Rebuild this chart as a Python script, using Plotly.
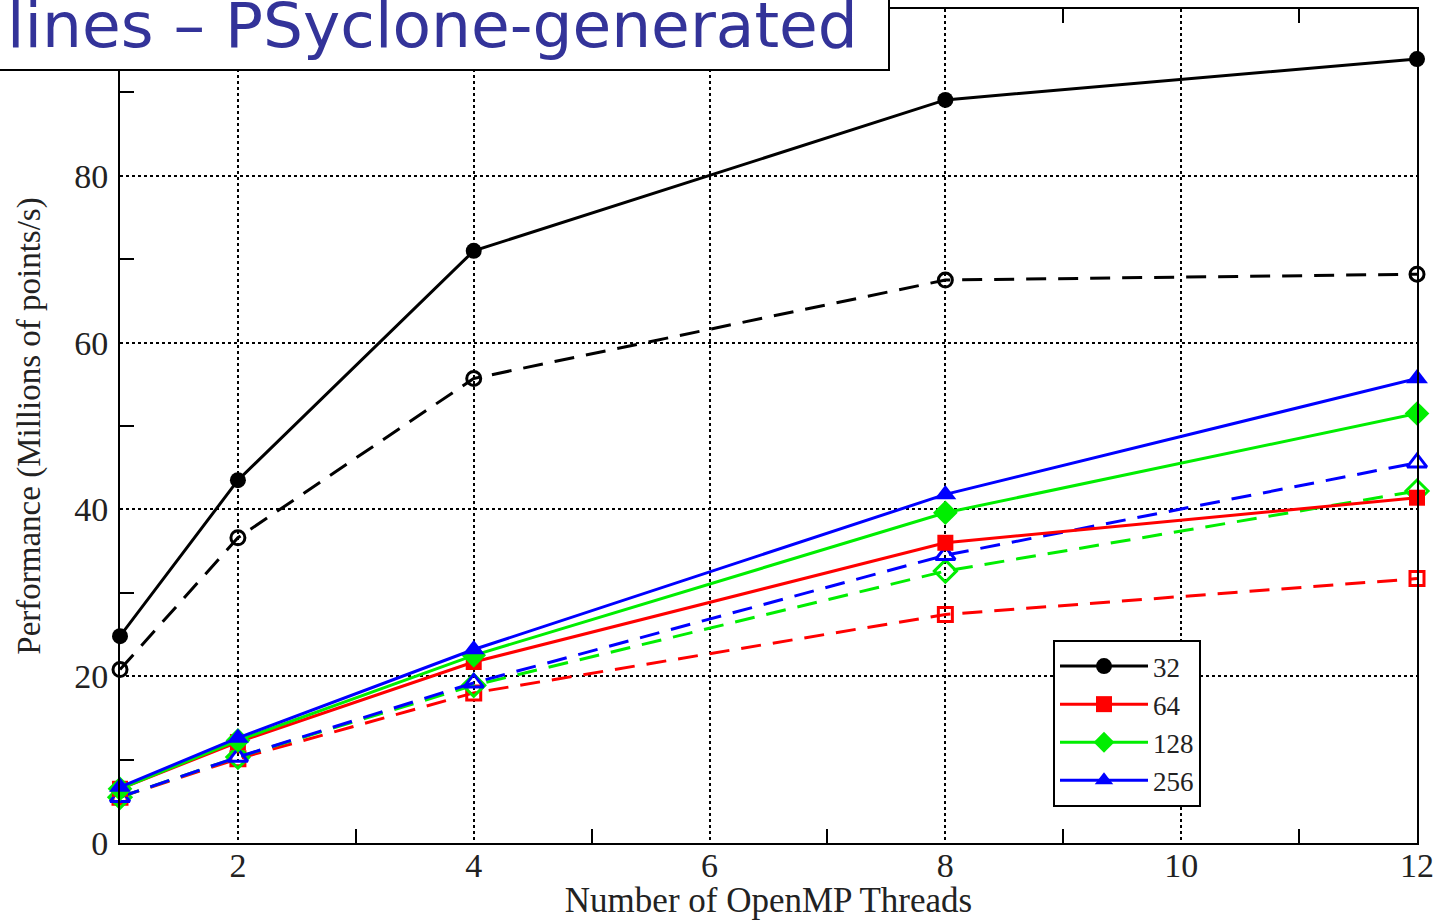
import plotly.graph_objects as go

threads = [1, 2, 4, 8, 12]
sizes = ["32", "64", "128", "256"]
solid_vals = {
    "32": [24.8, 43.5, 71.0, 89.1, 94.0],
    "64": [6.5, 12.1, 21.7, 36.0, 41.4],
    "128": [6.5, 12.3, 22.5, 39.6, 51.5],
    "256": [6.7, 12.6, 23.2, 41.8, 55.7],
}
dashed_vals = {
    "32": [20.8, 36.6, 55.7, 67.5, 68.2],
    "64": [5.5, 10.1, 18.0, 27.4, 31.7],
    "128": [5.5, 10.3, 18.9, 32.6, 42.2],
    "256": [5.5, 10.3, 19.2, 34.5, 45.6],
}
colors = {"32": "#000000", "64": "#ff0000", "128": "#00ee00", "256": "#0000ff"}
symbols = {"32": "circle", "64": "square", "128": "diamond", "256": "triangle-up"}
msize = {"32": 16, "64": 16, "128": 19, "256": 19}

W, H = 1447, 920
L, R, T, B = 120, 1417, 9, 843

fig = go.Figure()
for s in sizes:
    fig.add_trace(go.Scatter(
        x=threads, y=dashed_vals[s], mode="lines+markers", showlegend=False,
        cliponaxis=False,
        line=dict(color=colors[s], width=3, dash="20px,12px"),
        marker=dict(symbol=symbols[s] + "-open", size=msize[s] - 2, color=colors[s],
                    line=dict(color=colors[s], width=3)),
    ))
for s in sizes:
    fig.add_trace(go.Scatter(
        x=threads, y=solid_vals[s], mode="lines+markers", name=s,
        cliponaxis=False,
        line=dict(color=colors[s], width=3),
        marker=dict(symbol=symbols[s], size=msize[s], color=colors[s]),
    ))

def px_x(p):
    return (p - L) / (R - L)

def px_y(p):
    return (B - p) / (B - T)

tick_font = dict(family="Liberation Serif", size=34, color="#222222")
fig.update_xaxes(
    range=[1, 12], tickvals=[2, 4, 6, 8, 10, 12], ticks="", showgrid=True,
    gridcolor="black", griddash="dot", gridwidth=2,
    minor=dict(tickvals=[3, 5, 7, 9, 11], ticks="inside", ticklen=14, tickwidth=2,
               tickcolor="black", showgrid=False),
    showline=True, linecolor="black", linewidth=2, mirror="allticks",
    tickfont=tick_font, zeroline=False, ticklabelstandoff=-9,
    title=dict(text="Number of OpenMP Threads", font=dict(family="Liberation Serif", size=35, color="#222222"), standoff=3),
)
fig.update_yaxes(
    range=[0, 100], tickvals=[0, 20, 40, 60, 80], ticks="", showgrid=True,
    gridcolor="black", griddash="dot", gridwidth=2,
    minor=dict(tickvals=[10, 30, 50, 70, 90], ticks="inside", ticklen=14, tickwidth=2,
               tickcolor="black", showgrid=False),
    showline=True, linecolor="black", linewidth=2, mirror=True,
    tickfont=tick_font, zeroline=False, ticklabelstandoff=3,
    title=dict(text="Performance (Millions of points/s)", font=dict(family="Liberation Serif", size=33, color="#222222"), standoff=24),
)

fig.update_layout(
    width=W, height=H,
    margin=dict(l=L, r=W - R, t=T, b=H - B, autoexpand=False),
    paper_bgcolor="white", plot_bgcolor="white",
    legend=dict(x=px_x(1053), y=px_y(640), xanchor="left", yanchor="top",
                bordercolor="black", borderwidth=2, bgcolor="white",
                font=dict(family="Liberation Serif", size=27, color="#222222"),
                tracegroupgap=0, itemwidth=88, entrywidth=70),
)

# title box overlay
fig.add_shape(type="rect", xref="paper", yref="paper",
              x0=px_x(-20), x1=px_x(889), y0=px_y(70), y1=px_y(-10),
              line=dict(color="black", width=2), fillcolor="white", layer="above")
fig.add_annotation(xref="paper", yref="paper", x=px_x(860), y=px_y(26),
                   xanchor="right", yanchor="middle", showarrow=False,
                   text="lines – PSyclone-generated",
                   font=dict(family="DejaVu Sans", size=63, color="#333399"))

fig.write_html("out.html", config={"displayModeBar": False},
               post_script="document.body.style.margin='0px';")
